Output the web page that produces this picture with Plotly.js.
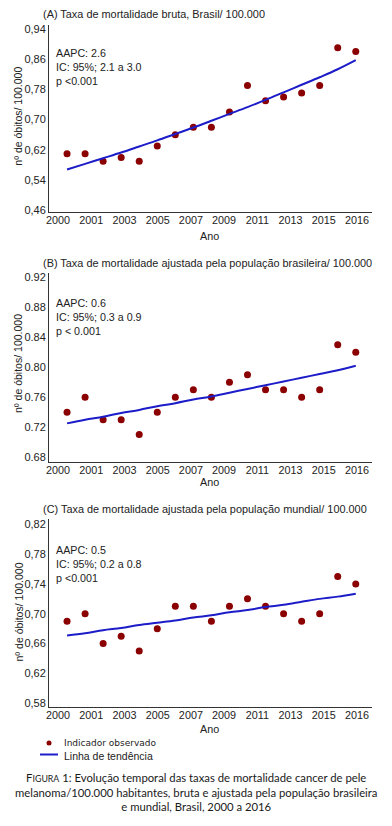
<!DOCTYPE html>
<html>
<head>
<meta charset="utf-8">
<script src="https://cdn.plot.ly/plotly-3.0.1.min.js"></script>
<style>html,body{margin:0;padding:0;background:#fff;}#chart{width:392px;height:826px;}</style>
</head>
<body>
<div id="chart"></div>
<script>
// ---- data ----
const years = [2000,2001,2002,2003,2004,2005,2006,2007,2008,2009,2010,2011,2012,2013,2014,2015,2016];
const rateBruta   = [0.61,0.61,0.59,0.60,0.59,0.63,0.66,0.68,0.68,0.72,0.79,0.75,0.76,0.77,0.79,0.89,0.88];
const trendBruta  = [0.568,0.583,0.598,0.613,0.629,0.645,0.662,0.679,0.697,0.715,0.733,0.752,0.772,0.792,0.812,0.833,0.857];
const rateBrasil  = [0.74,0.76,0.73,0.73,0.71,0.74,0.76,0.77,0.76,0.78,0.79,0.77,0.77,0.76,0.77,0.83,0.82];
const trendBrasil = [0.725,0.730,0.734,0.739,0.743,0.748,0.752,0.757,0.761,0.766,0.771,0.776,0.781,0.786,0.791,0.796,0.802];
const rateMundial  = [0.69,0.70,0.66,0.67,0.65,0.68,0.71,0.71,0.69,0.71,0.72,0.71,0.70,0.69,0.70,0.75,0.74];
const trendMundial = [0.671,0.674,0.678,0.681,0.685,0.688,0.691,0.695,0.698,0.702,0.705,0.709,0.712,0.716,0.720,0.723,0.727];

// the original prints these year labels evenly spaced along the axis
const xTickText = ['2000','2001','2003','2005','2007','2009','2011','2013','2015','2016'];
const yTickValsA = [0.46,0.54,0.62,0.70,0.78,0.86,0.94];
const yTickTextA = ['0,46','0,54','0,62','0,70','0,78','0,86','0,94'];
const yTickValsB = [0.68,0.72,0.76,0.80,0.84,0.88,0.92];
const yTickTextB = ['0.68','0.72','0.76','0.80','0.84','0.88','0.92'];
const yTickValsC = [0.58,0.62,0.66,0.70,0.74,0.78,0.82];
const yTickTextC = ['0,58','0,62','0,66','0,70','0,74','0,78','0,82'];

const panelTitles = [
  '(A) Taxa de mortalidade bruta, Brasil/ 100.000',
  '(B) Taxa de mortalidade ajustada pela população brasileira/ 100.000',
  '(C) Taxa de mortalidade ajustada pela população mundial/ 100.000'
];
const statTexts = [
  'AAPC: 2.6<br>IC: 95%; 2.1 a 3.0<br>p <0.001',
  'AAPC: 0.6<br>IC: 95%; 0.3 a 0.9<br>p < 0.001',
  'AAPC: 0.5<br>IC: 95%; 0.2 a 0.8<br>p <0.001'
];
const yTitle = 'nº de óbitos/ 100.000';
const xTitle = 'Ano';
const legendNames = ['Indicador observado','Linha de tendência'];
const caption = 'F<span style="font-size:8.8px">IGURA</span> 1: Evolução temporal das taxas de mortalidade cancer de pele<br>' +
  'melanoma/100.000 habitantes, bruta e ajustada pela população brasileira<br>' +
  'e mundial, Brasil, 2000 a 2016';

// ---- layout helpers ----
const W = 392, H = 826;
const px = v => v / W;
const py = v => 1 - v / H;
const ARIAL = 'Liberation Sans, Arial, sans-serif';
const TXT = '#222';
const DOT = '#8b0000';
const LINE = '#1c1cc8';

const panels = [
  {rate: rateBruta,   trend: trendBruta,   top: 25,  bot: 212.3, range:[0.455,0.95],  tv:yTickValsA, tt:yTickTextA, titleY:13.5, statY:66.5, yTitleY:116.7, anoY:235.5},
  {rate: rateBrasil,  trend: trendBrasil,  top: 273, bot: 462.3, range:[0.673,0.926], tv:yTickValsB, tt:yTickTextB, titleY:263.5, statY:316.5, yTitleY:364, anoY:482},
  {rate: rateMundial, trend: trendMundial, top: 519.3, bot: 707.3, range:[0.5746,0.8267], tv:yTickValsC, tt:yTickTextC, titleY:508.5, statY:563.5, yTitleY:612.5, anoY:728.5}
];

const traces = [];
const layout = {
  width: W, height: H,
  margin: {l:0, r:0, t:0, b:0, autoexpand:false},
  paper_bgcolor: '#fff', plot_bgcolor: 'rgba(0,0,0,0)',
  font: {family: ARIAL, size: 11, color: TXT},
  showlegend: false,
  annotations: [],
  shapes: [],
  hovermode: false
};

const labelIdx = xTickText.map((_, k) => k);

panels.forEach((p, i) => {
  const n = i + 1;
  const xa = n === 1 ? 'x' : 'x' + n;
  const ya = n === 1 ? 'y' : 'y' + n;
  const la = 'x' + (n + 3);
  traces.push({x: years, y: p.rate, xaxis: xa, yaxis: ya, type:'scatter', mode:'markers',
    name: legendNames[0], marker:{color: DOT, size: 7}});
  traces.push({x: years, y: p.trend, xaxis: xa, yaxis: ya, type:'scatter', mode:'lines',
    name: legendNames[1], line:{color: LINE, width: 2, shape:'spline'}});
  // empty trace so that the label axis is drawn
  traces.push({x: [], y: [], xaxis: la, yaxis: ya, type:'scatter', mode:'markers', hoverinfo:'skip'});
  const xk = n === 1 ? 'xaxis' : 'xaxis' + n;
  const yk = n === 1 ? 'yaxis' : 'yaxis' + n;
  layout[xk] = {domain:[px(49), px(372)], anchor: ya, range:[1999.0, 2016.9],
    showgrid:false, zeroline:false, showline:true, linecolor:'#333', linewidth:1,
    ticks:'', showticklabels:false, fixedrange:true};
  // label axis: evenly spaced year labels, as printed in the original
  layout['xaxis' + (n + 3)] = {domain:[px(49), px(372)], anchor: ya, overlaying: xa, side:'bottom',
    range:[-0.27, 9.45], showgrid:false, zeroline:false, showline:false, ticks:'',
    tickvals: labelIdx, ticktext: xTickText, tickangle:0, tickfont:{size:10.8, color:TXT}, fixedrange:true};
  layout[yk] = {domain:[py(p.bot), py(p.top)], anchor: xa, range: p.range,
    showgrid:false, zeroline:false, showline:true, linecolor:'#333', linewidth:1,
    ticks:'', tickvals: p.tv, ticktext: p.tt, tickfont:{size:11, color:TXT}, fixedrange:true};
  layout.annotations.push({xref:'paper', yref:'paper', x: px(41), y: py(p.titleY), xanchor:'left', yanchor:'middle',
    text: panelTitles[i], showarrow:false, font:{size:10.9, color:TXT}});
  layout.annotations.push({xref:'paper', yref:'paper', x: px(54), y: py(p.statY), xanchor:'left', yanchor:'middle',
    align:'left', text: statTexts[i], showarrow:false, font:{size:10.7, color:TXT}});
  layout.annotations.push({xref:'paper', yref:'paper', x: px(18), y: py(p.yTitleY), xanchor:'center', yanchor:'middle',
    textangle:-90, text: yTitle, showarrow:false, font:{size:10.5, color:TXT}});
  layout.annotations.push({xref:'paper', yref:'paper', x: px(209), y: py(p.anoY), xanchor:'center', yanchor:'middle',
    text: xTitle, showarrow:false, font:{size:10.8, color:TXT}});
});

// legend (drawn as key symbols + labels)
layout.shapes.push({type:'circle', xref:'paper', yref:'paper', x0: px(46.5), x1: px(51.5), y0: py(745.5), y1: py(740.5),
  fillcolor: DOT, line:{width:0}});
layout.shapes.push({type:'line', xref:'paper', yref:'paper', x0: px(40), x1: px(58), y0: py(754.5), y1: py(754.5),
  line:{color: LINE, width: 2}});
layout.annotations.push({xref:'paper', yref:'paper', x: px(62), y: py(743), xanchor:'left', yanchor:'middle',
  text: legendNames[0], showarrow:false, font:{family:'DejaVu Sans, sans-serif', size:9, color:TXT}});
layout.annotations.push({xref:'paper', yref:'paper', x: px(62), y: py(755.5), xanchor:'left', yanchor:'middle',
  text: legendNames[1], showarrow:false, font:{family:ARIAL, size:10.5, color:TXT}});

layout.annotations.push({xref:'paper', yref:'paper', x: 0.5, y: py(791.5), xanchor:'center', yanchor:'middle',
  align:'center', text: caption, showarrow:false, font:{family:'Lato, Open Sans, sans-serif', size:11.3, color:'#1a1a1a'}});

Plotly.newPlot('chart', traces, layout, {staticPlot:true, displayModeBar:false});
</script>
</body>
</html>
